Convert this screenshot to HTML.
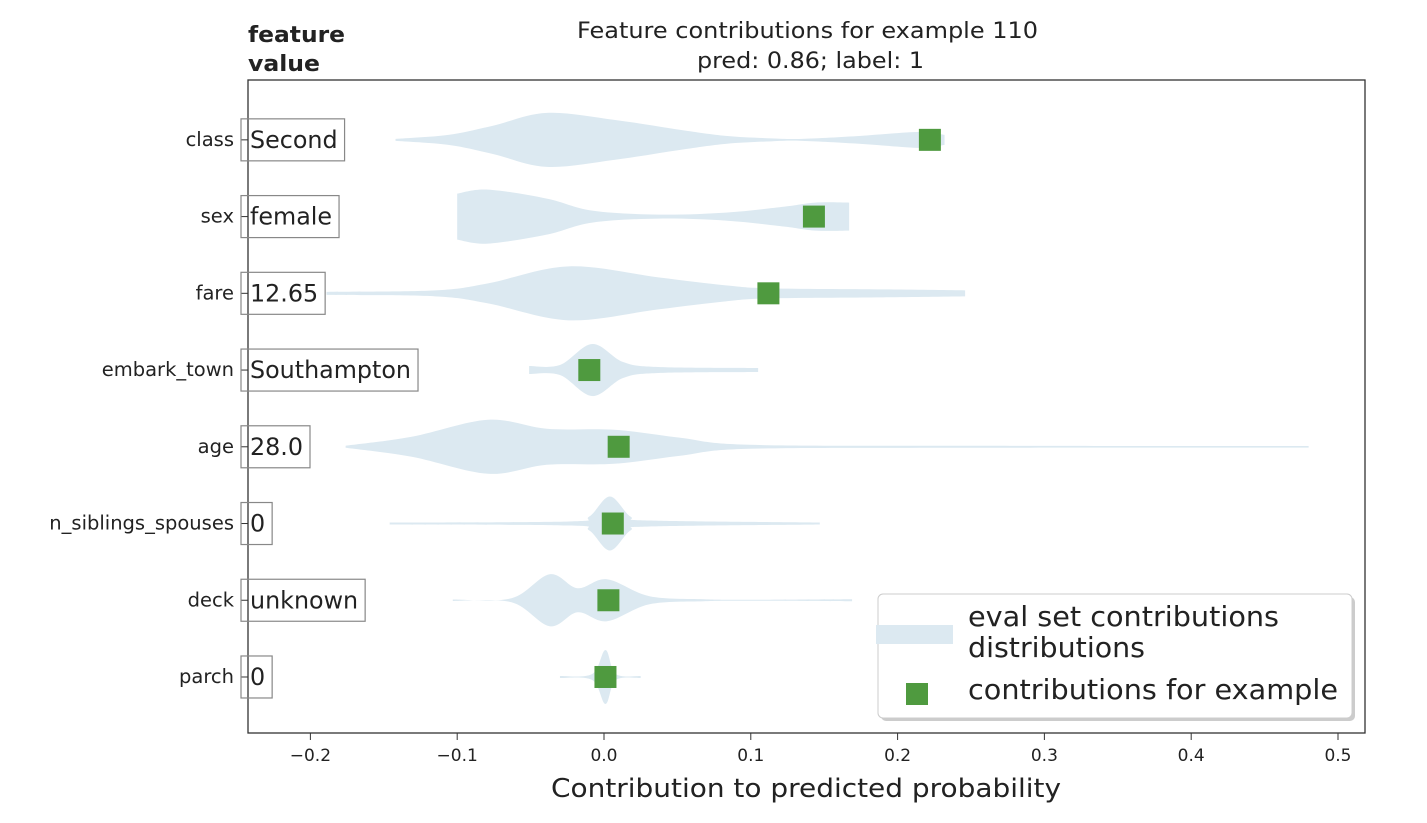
<!DOCTYPE html>
<html><head><meta charset="utf-8"><style>
body{margin:0;background:#fff;}
svg text{font-family:"DejaVu Sans","Liberation Sans",sans-serif;fill:#222;}
</style></head><body>
<svg id="chart" width="1427" height="818" xmlns="http://www.w3.org/2000/svg">
<g id="violins"></g>
<g id="markers"></g>
<rect x="248" y="80" width="1117" height="653" fill="none" stroke="#333" stroke-width="1.3"/>
<g id="yaxis"></g>
<g id="xaxis"></g>
<text x="577" y="38" font-size="22" textLength="461" lengthAdjust="spacingAndGlyphs">Feature contributions for example 110</text>
<text x="697" y="68" font-size="22" textLength="227" lengthAdjust="spacingAndGlyphs">pred: 0.86; label: 1</text>
<text x="248" y="42" font-size="22" font-weight="bold"><tspan x="248" textLength="97" lengthAdjust="spacingAndGlyphs">feature</tspan><tspan x="248" dy="29" textLength="72" lengthAdjust="spacingAndGlyphs">value</tspan></text>
<text x="551" y="797" font-size="26" textLength="510" lengthAdjust="spacingAndGlyphs">Contribution to predicted probability</text>
<g>
<rect x="881" y="597" width="474" height="124" rx="5" fill="#aaa" opacity="0.6"/>
<rect x="878" y="594" width="474" height="124" rx="5" fill="#fff" stroke="#ccc"/>
<rect x="876" y="625" width="77" height="19" fill="#dce9f1"/>
<rect x="906" y="683" width="22" height="22" fill="#4f9a3f"/>
<text x="968" y="626" font-size="28"><tspan x="968" textLength="311" lengthAdjust="spacingAndGlyphs">eval set contributions</tspan><tspan x="968" dy="31" textLength="177" lengthAdjust="spacingAndGlyphs">distributions</tspan></text>
<text x="968" y="699" font-size="28" textLength="370" lengthAdjust="spacingAndGlyphs">contributions for example</text>
</g>
</svg>
<script>
const features = ["class","sex","fare","embark_town","age","n_siblings_spouses","deck","parch"];
const featureValues = ["Second","female","12.65","Southampton","28.0","0","unknown","0"];
const exampleContrib = [0.222,0.143,0.112,-0.010,0.010,0.006,0.003,0.001];
const xTicks = [-0.2,-0.1,0.0,0.1,0.2,0.3,0.4,0.5];
const xTickLabels = ["\u22120.2","\u22120.1","0.0","0.1","0.2","0.3","0.4","0.5"];
// violin profiles: [contribution, density half-width]
const violinClass = [[-0.142,1],[-0.106,5],[-0.076,14],[-0.039,27],[0.007,20],[0.052,10],[0.083,4],[0.114,1.5],[0.135,1],[0.175,4],[0.215,8],[0.232,5]];
const violinSex = [[-0.100,23],[-0.079,27],[-0.039,18],[-0.008,6],[0.037,2],[0.083,4],[0.123,10],[0.144,14],[0.167,14]];
const violinFare = [[-0.189,1.5],[-0.115,3],[-0.079,10],[-0.024,27],[0.037,16],[0.083,8],[0.114,5],[0.190,4],[0.246,3]];
const violinEmbark = [[-0.051,4],[-0.030,5],[-0.008,26],[0.013,8],[0.037,3],[0.105,2]];
const violinAge = [[-0.176,1],[-0.131,10],[-0.079,27],[-0.039,18],[0.007,17],[0.052,9],[0.099,2],[0.250,1],[0.480,0.8]];
const violinSib = [[-0.146,1],[-0.024,2],[-0.010,7],[0.004,27],[0.018,7],[0.031,3],[0.147,1]];
const violinDeck = [[-0.103,0.7],[-0.063,2],[-0.037,26],[-0.018,12],[0.002,21],[0.031,4],[0.068,1],[0.099,0.5],[0.169,1]];
const violinParch = [[-0.030,1],[-0.008,3],[0.001,27],[0.008,3],[0.025,1]];
const violins = [violinClass,violinSex,violinFare,violinEmbark,violinAge,violinSib,violinDeck,violinParch];

const NS="http://www.w3.org/2000/svg";
const X0=248,X1=1365,Y0=80,Y1=733, XMIN=-0.2425, XMAX=0.5184;
function xs(v){return X0+(v-XMIN)/(XMAX-XMIN)*(X1-X0);}
function ys(i){const n=features.length;return Y0+(i+0.78)/(n-1+1.51)*(Y1-Y0);}
function mk(tag,attrs){const e=document.createElementNS(NS,tag);for(const k in attrs)e.setAttribute(k,attrs[k]);return e;}
function smooth(pts){let d="M"+pts[0][0]+","+pts[0][1];for(let i=0;i<pts.length-1;i++){const p0=pts[Math.max(0,i-1)],p1=pts[i],p2=pts[i+1],p3=pts[Math.min(pts.length-1,i+2)];const c1=[p1[0]+(p2[0]-p0[0])/6,p1[1]+(p2[1]-p0[1])/6],c2=[p2[0]-(p3[0]-p1[0])/6,p2[1]-(p3[1]-p1[1])/6];d+=" C"+c1+" "+c2+" "+p2;}return d;}
const gv=document.getElementById('violins'),gm=document.getElementById('markers'),gy=document.getElementById('yaxis'),gx=document.getElementById('xaxis');
violins.forEach((prof,i)=>{
  const cy=ys(i);
  const top=prof.map(p=>[xs(p[0]),cy-p[1]]);
  const bot=prof.slice().reverse().map(p=>[xs(p[0]),cy+p[1]]);
  const d=smooth(top)+" L"+bot[0]+" "+smooth(bot).slice(1)+" Z";
  const path=mk('path',{d:d,fill:'#dce9f1'});
  
  
  gv.appendChild(path);
});
exampleContrib.forEach((v,i)=>{
  const r=mk('rect',{x:xs(v)-11,y:ys(i)-11,width:22,height:22,fill:'#4f9a3f'});
  
  
  gm.appendChild(r);
});
features.forEach((f,i)=>{
  const cy=ys(i);
  const t=mk('line',{x1:241,x2:248,y1:cy,y2:cy,stroke:'#333'});
  
  
  gy.appendChild(t);
  const lb=mk('text',{x:234,y:cy+6,'font-size':19.5,'text-anchor':'end'});
  lb.textContent=f;
  
  
  gy.appendChild(lb);
  const tx=mk('text',{x:250,y:cy+8,'font-size':23.8});
  tx.textContent=featureValues[i];
  
  
  gy.appendChild(tx);
  const w=tx.getComputedTextLength();
  const bx=mk('rect',{x:241,y:cy-21,width:w+16,height:42,fill:'none',stroke:'#888','stroke-width':1.2});
  
  
  gy.appendChild(bx);
});
xTicks.forEach((v,i)=>{
  const x=xs(v);
  const t=mk('line',{x1:x,x2:x,y1:733,y2:740,stroke:'#333'});
  
  
  gx.appendChild(t);
  const lb=mk('text',{x:x,y:761,'font-size':17,'text-anchor':'middle'});
  lb.textContent=xTickLabels[i];
  
  
  gx.appendChild(lb);
});
</script>
</body></html>
